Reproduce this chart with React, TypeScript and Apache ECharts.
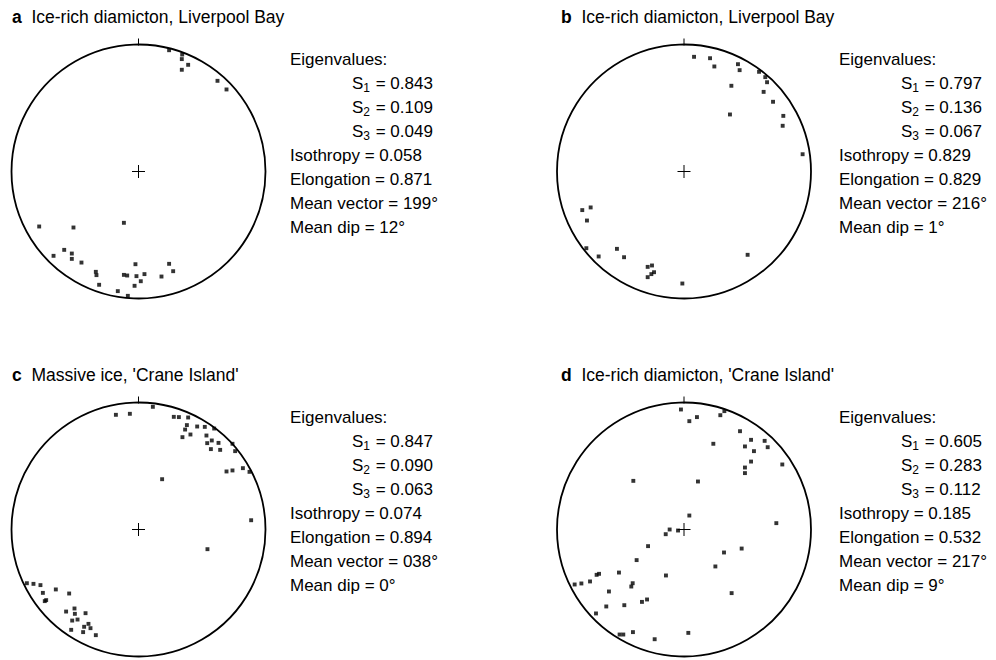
import React, { useEffect, useRef } from "react";
import * as echarts from "echarts";

// ---------- data ----------
const panelLetters = ["a", "b", "c", "d"];
const panelTitles = [
  "Ice-rich diamicton, Liverpool Bay",
  "Ice-rich diamicton, Liverpool Bay",
  "Massive ice, 'Crane Island'",
  "Ice-rich diamicton, 'Crane Island'",
];
const s1Values = ["0.843", "0.797", "0.847", "0.605"];
const s2Values = ["0.109", "0.136", "0.090", "0.283"];
const s3Values = ["0.049", "0.067", "0.063", "0.112"];
const isothropyValues = ["0.058", "0.829", "0.074", "0.185"];
const elongationValues = ["0.871", "0.829", "0.894", "0.532"];
const meanVectorValues = ["199°", "216°", "038°", "217°"];
const meanDipValues = ["12°", "1°", "0°", "9°"];

// projected fabric points (x east, y north, unit circle)
const pointsA = [
  [0.241, 0.955], [0.344, 0.921], [0.341, 0.885], [0.391, 0.84], [0.341, 0.801],
  [0.622, 0.714], [0.693, 0.646], [-0.782, -0.433], [-0.512, -0.441], [-0.115, -0.404],
  [-0.585, -0.617], [-0.669, -0.664], [-0.525, -0.646], [-0.525, -0.688], [-0.449, -0.717],
  [-0.336, -0.79], [-0.331, -0.816], [-0.024, -0.73], [0.241, -0.727], [0.273, -0.785],
  [-0.115, -0.814], [-0.089, -0.819], [-0.016, -0.824], [0.047, -0.808], [0.181, -0.827],
  [0.018, -0.864], [-0.031, -0.9], [-0.31, -0.892], [-0.163, -0.942], [-0.084, -0.979],
];
const pointsB = [
  [0.079, 0.903], [0.205, 0.892], [0.239, 0.827], [0.425, 0.845], [0.438, 0.798],
  [0.591, 0.785], [0.64, 0.743], [0.654, 0.703], [0.373, 0.675], [0.627, 0.627],
  [0.701, 0.549], [0.362, 0.449], [0.782, 0.438], [0.777, 0.36], [0.934, 0.136],
  [-0.735, -0.283], [-0.801, -0.304], [-0.764, -0.386], [-0.769, -0.604], [-0.528, -0.609],
  [-0.672, -0.669], [-0.472, -0.675], [0.501, -0.656], [-0.252, -0.74], [-0.286, -0.751],
  [-0.236, -0.793], [-0.257, -0.808], [-0.286, -0.832], [-0.013, -0.882],
];
const pointsC = [
  [-0.178, 0.903], [-0.068, 0.911], [0.113, 0.966], [0.278, 0.887], [0.318, 0.885],
  [0.391, 0.882], [0.381, 0.822], [0.367, 0.787], [0.462, 0.811], [0.522, 0.808],
  [0.596, 0.795], [0.409, 0.748], [0.346, 0.727], [0.535, 0.74], [0.577, 0.701],
  [0.541, 0.68], [0.63, 0.682], [0.57, 0.633], [0.643, 0.627], [0.74, 0.675],
  [0.761, 0.617], [0.693, 0.457], [0.74, 0.465], [0.822, 0.483], [0.874, 0.454],
  [0.186, 0.396], [0.887, 0.073], [0.543, -0.155], [-0.879, -0.423], [-0.827, -0.428],
  [-0.772, -0.438], [-0.651, -0.472], [-0.753, -0.499], [-0.546, -0.504], [-0.738, -0.564],
  [-0.727, -0.556], [-0.504, -0.622], [-0.57, -0.646], [-0.417, -0.659], [-0.501, -0.664],
  [-0.48, -0.709], [-0.522, -0.717], [-0.394, -0.743], [-0.428, -0.766], [-0.378, -0.777],
  [-0.53, -0.79], [-0.436, -0.808], [-0.336, -0.832],
];
const pointsD = [
  [-0.024, 0.945], [0.102, 0.885], [0.042, 0.853], [0.286, 0.9], [0.318, 0.932],
  [0.441, 0.774], [0.231, 0.675], [0.528, 0.706], [0.635, 0.698], [0.48, 0.654],
  [0.659, 0.648], [0.551, 0.617], [0.528, 0.535], [0.48, 0.488], [0.48, 0.444],
  [0.774, 0.512], [-0.399, 0.383], [0.11, 0.378], [0.042, 0.11], [-0.113, 0.0],
  [-0.144, -0.037], [-0.047, -0.008], [0.727, 0.05], [-0.283, -0.131], [0.454, -0.15],
  [0.315, -0.181], [-0.373, -0.241], [0.247, -0.291], [-0.688, -0.357], [-0.669, -0.349],
  [-0.74, -0.409], [-0.808, -0.425], [-0.861, -0.433], [-0.512, -0.339], [-0.142, -0.362],
  [-0.404, -0.423], [-0.415, -0.449], [-0.591, -0.488], [0.375, -0.501], [-0.291, -0.551],
  [-0.331, -0.57], [-0.612, -0.606], [-0.47, -0.596], [-0.693, -0.661], [-0.507, -0.827],
  [-0.478, -0.827], [-0.402, -0.808], [-0.231, -0.864], [0.034, -0.814],
];
const panelPoints = [pointsA, pointsB, pointsC, pointsD];

// ---------- layout ----------
const R = 127;
const centers = [
  [138.5, 171.5],
  [684, 171.5],
  [138.5, 529.5],
  [684, 529.5],
];
const textLeft = [290, 839, 290, 839];
const titleLeft = [12, 561, 12, 561];
const S_INDENT = 62;
const FONT = "Liberation Sans, Arial, Helvetica, sans-serif";
const INK = "#000";
const TEXT_SIZE = 17;
const TITLE_SIZE = 17.5;

function buildOption() {
  const grid: any[] = [];
  const xAxis: any[] = [];
  const yAxis: any[] = [];
  const polar: any[] = [];
  const angleAxis: any[] = [];
  const radiusAxis: any[] = [];
  const series: any[] = [];
  const graphic: any[] = [];

  centers.forEach(([cx, cy], i) => {
    grid.push({ left: cx - R, top: cy - R, width: 2 * R, height: 2 * R, show: false });
    xAxis.push({ gridIndex: i, type: "value", min: -1, max: 1, show: false });
    yAxis.push({ gridIndex: i, type: "value", min: -1, max: 1, show: false });
    polar.push({ center: [cx, cy], radius: R });
    angleAxis.push({
      polarIndex: i,
      type: "value",
      min: 0,
      max: 360,
      startAngle: 90,
      clockwise: true,
      axisLine: { show: true, lineStyle: { color: INK, width: 1.8 } },
      axisTick: { show: false },
      axisLabel: { show: false },
      splitLine: { show: false },
    });
    radiusAxis.push({ polarIndex: i, type: "value", min: 0, max: 1, show: false });
    series.push({
      type: "scatter",
      xAxisIndex: i,
      yAxisIndex: i,
      symbol: "rect",
      symbolSize: 3.9,
      itemStyle: { color: INK },
      silent: true,
      data: panelPoints[i],
    });

    // north tick
    graphic.push({
      type: "line",
      shape: { x1: cx, y1: cy - R - 6, x2: cx, y2: cy - R + 1 },
      style: { stroke: INK, lineWidth: 1 },
    });
    // centre cross
    graphic.push({
      type: "line",
      shape: { x1: cx - 6.5, y1: cy, x2: cx + 6.5, y2: cy },
      style: { stroke: INK, lineWidth: 1 },
    });
    graphic.push({
      type: "line",
      shape: { x1: cx, y1: cy - 6.5, x2: cx, y2: cy + 6.5 },
      style: { stroke: INK, lineWidth: 1 },
    });

    // title
    graphic.push({
      type: "text",
      x: titleLeft[i],
      y: cy - 154.5,
      style: {
        text: `{b|${panelLetters[i]}}  ${panelTitles[i]}`,
        font: `${TITLE_SIZE}px ${FONT}`,
        fill: INK,
        verticalAlign: "middle",
        rich: {
          b: { fontWeight: "bold", fontSize: TITLE_SIZE, fontFamily: FONT, fill: INK },
        },
      },
    });

    // statistics block
    const tx = textLeft[i];
    const lines = [
      { t: "Eigenvalues:", dx: 0 },
      { t: `S{sub|1} = ${s1Values[i]}`, dx: S_INDENT },
      { t: `S{sub|2} = ${s2Values[i]}`, dx: S_INDENT },
      { t: `S{sub|3} = ${s3Values[i]}`, dx: S_INDENT },
      { t: `Isothropy = ${isothropyValues[i]}`, dx: 0 },
      { t: `Elongation = ${elongationValues[i]}`, dx: 0 },
      { t: `Mean vector = ${meanVectorValues[i]}`, dx: 0 },
      { t: `Mean dip = ${meanDipValues[i]}`, dx: 0 },
    ];
    lines.forEach((ln, k) => {
      graphic.push({
        type: "text",
        x: tx + ln.dx,
        y: cy - 112 + k * 24,
        style: {
          text: ln.t,
          font: `${TEXT_SIZE}px ${FONT}`,
          fill: INK,
          verticalAlign: "middle",
          rich: {
            sub: {
              fontSize: 12,
              fontFamily: FONT,
              fill: INK,
              padding: [8, 1, 0, 0],
            },
          },
        },
      });
    });
  });

  return {
    animation: false,
    backgroundColor: "#fff",
    grid,
    xAxis,
    yAxis,
    polar,
    angleAxis,
    radiusAxis,
    series,
    graphic,
  };
}

export default function App() {
  const ref = useRef<HTMLDivElement>(null);
  useEffect(() => {
    if (!ref.current) return;
    const chart = echarts.init(ref.current, null, { renderer: "svg" });
    chart.setOption(buildOption() as any);
    return () => chart.dispose();
  }, []);
  return (
    <div
      ref={ref}
      style={{ position: "fixed", left: 0, top: 0, width: 996, height: 660, background: "#fff" }}
    />
  );
}
